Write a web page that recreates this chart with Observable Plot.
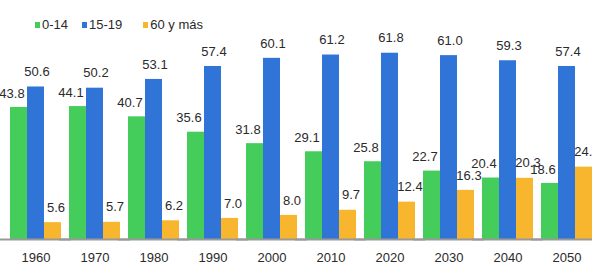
<!DOCTYPE html>
<html>
<head>
<meta charset="utf-8">
<script src="https://cdn.jsdelivr.net/npm/d3@7"></script>
<script src="https://cdn.jsdelivr.net/npm/@observablehq/plot@0.6"></script>
<style>
  html, body { margin: 0; padding: 0; background: #fff; overflow: hidden; }
  #wrap { position: relative; width: 592px; height: 267px; }
  #legend { position: absolute; left: 35px; top: 17px; display: flex; align-items: center;
    font-family: "Liberation Sans", Arial, sans-serif; font-size: 13px; color: #2a2a2a; z-index: 2; }
  #legend .item { display: flex; align-items: center; }
  #legend .sw { width: 5px; height: 6px; margin-right: 2px; }
</style>
</head>
<body>
<div id="wrap"><div id="legend"></div></div>
<script>
const years = ["1960","1970","1980","1990","2000","2010","2020","2030","2040","2050"];
const series = ["0-14", "15-19", "60 y más"];
const g014 = [43.8, 44.1, 40.7, 35.6, 31.8, 29.1, 25.8, 22.7, 20.4, 18.6];
const g1519 = [50.6, 50.2, 53.1, 57.4, 60.1, 61.2, 61.8, 61.0, 59.3, 57.4];
const g60 = [5.6, 5.7, 6.2, 7.0, 8.0, 9.7, 12.4, 16.3, 20.3, 24.0];
const colors = ["#45cd5c", "#2f74d6", "#f8b62e"];

const values = [g014, g1519, g60];
const rows = [];
years.forEach((y, i) => series.forEach((s, j) => rows.push({year: y, series: s, value: values[j][i]})));

const legend = document.getElementById("legend");
const gaps = ["14px", "21px", "0px"];
series.forEach((s, j) => {
  const it = document.createElement("div");
  it.className = "item";
  it.style.marginRight = gaps[j];
  const sw = document.createElement("span");
  sw.className = "sw";
  sw.style.background = colors[j];
  const t = document.createElement("span");
  t.textContent = s;
  it.appendChild(sw); it.appendChild(t);
  legend.appendChild(it);
});

const fmt = d => d.value.toFixed(1);
const txt = {fontSize: 13, fill: "#2a2a2a", fontFamily: "Liberation Sans, Arial, sans-serif"};

const chart = Plot.plot({
  width: 592,
  height: 267,
  marginLeft: 8,
  marginRight: -2,
  marginTop: 28,
  marginBottom: 28,
  style: {fontFamily: "Liberation Sans, Arial, sans-serif", fontSize: "13px", color: "#2a2a2a", background: "transparent", overflow: "hidden"},
  facet: {data: rows, x: "year"},
  fx: {domain: years, paddingInner: 0.142, paddingOuter: 0, axis: "bottom", tickSize: 0, tickPadding: 13, label: null},
  x: {domain: series, axis: null, padding: 0},
  y: {domain: [0, 70], axis: null},
  color: {domain: series, range: colors},
  marks: [
    Plot.barY(rows, {x: "series", y: "value", fill: "series"}),
    Plot.ruleY([0], {stroke: "#999", strokeWidth: 2, insetLeft: -10, insetRight: -10}),
    Plot.text(rows, {filter: d => d.series === series[0], x: "series", y: "value", text: fmt, dy: -14, dx: -7, ...txt}),
    Plot.text(rows, {filter: d => d.series === series[1], x: "series", y: "value", text: fmt, dy: -15, dx: 1, ...txt}),
    Plot.text(rows, {filter: d => d.series === series[2], x: "series", y: "value", text: fmt, dy: -15, dx: 3, ...txt})
  ]
});
document.getElementById("wrap").appendChild(chart);
</script>
</body>
</html>
